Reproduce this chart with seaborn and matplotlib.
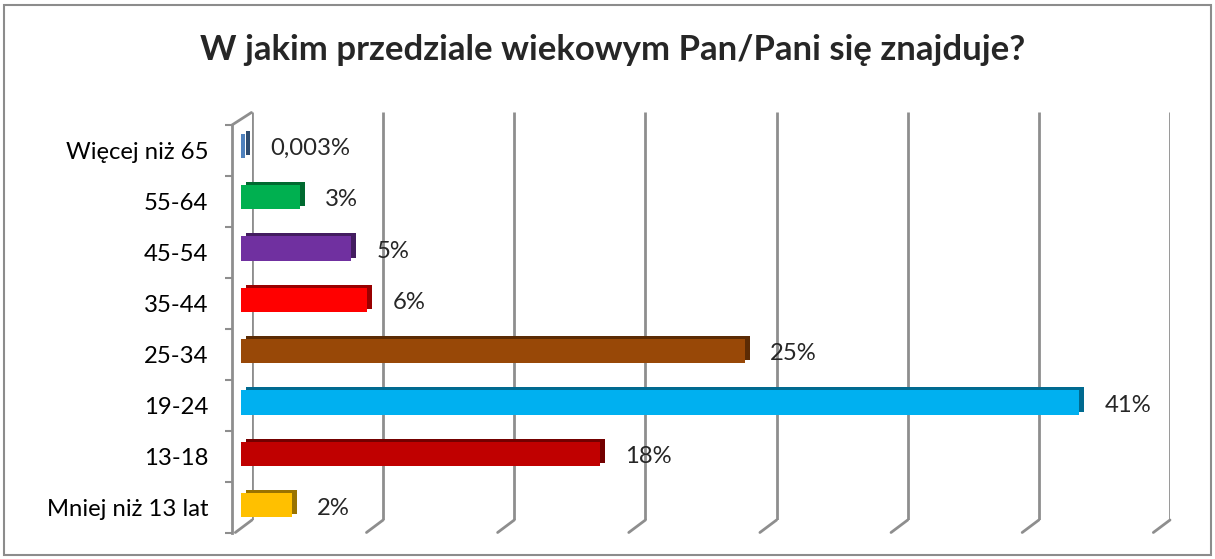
import matplotlib
matplotlib.use("Agg")
import matplotlib.pyplot as plt
import matplotlib.colors as mcolors
from matplotlib.patches import Rectangle
import numpy as np
import seaborn as sns

title = "W jakim przedziale wiekowym Pan/Pani się znajduje?"
categories = ["Więcej niż 65", "55-64", "45-54", "35-44", "25-34", "19-24", "13-18", "Mniej niż 13 lat"]
values = [0.2, 2.9, 5.4, 6.2, 24.7, 41.1, 17.6, 2.5]
labels = ["0,003%", "3%", "5%", "6%", "25%", "41%", "18%", "2%"]
colors = ["#4F81BD", "#00B050", "#7030A0", "#FF0000", "#984807", "#00B0F0", "#C00000", "#FFC000"]
x_max = 45
grid_ticks = np.linspace(0, x_max, 8)

W, H = 1215, 559


def box(left, top, right, bottom):
    # pixel box -> figure fraction
    return [left / W, 1 - bottom / H, (right - left) / W, (bottom - top) / H]


def darker(c, f=0.6):
    r, g, b = mcolors.to_rgb(c)
    return (r * f, g * f, b * f)


sns.set_theme(style="white")
plt.rcParams["font.family"] = ["Lato", "DejaVu Sans"]
grid_col = "#8e8e8e"
fs = 17.2

fig = plt.figure(figsize=(12.15, 5.59), dpi=100)
fig.patch.set_facecolor("white")
fig.patches.append(Rectangle((4 / W, 4 / H), (W - 8) / W, (H - 9) / H, transform=fig.transFigure,
                             fill=False, edgecolor="#8c8c8c", lw=1.5))

# back wall with vertical gridlines
bg = fig.add_axes(box(252, 112, 252 + 918, 520))
bg.set_xlim(0, x_max)
bg.set_ylim(0, 1)
bg.axis("off")
bg.vlines(grid_ticks, 0, 1, color=grid_col, lw=2)
for t in grid_ticks:
    bg.annotate("", xy=(t, 0), xytext=(-12, -9), textcoords="offset points",
                arrowprops=dict(arrowstyle="-", color=grid_col, lw=2, shrinkA=0, shrinkB=0))

# front category axis
fr = fig.add_axes(box(232, 125, 232 + 918, 533))
fr.patch.set_alpha(0)
fr.set_ylim(len(categories) - 0.5, -0.5)
fr.set_xlim(0, x_max)
fr.set_yticks(range(len(categories)))
fr.set_yticklabels(categories, fontsize=fs, color="black")
fr.set_yticks(np.arange(-0.5, len(categories)), minor=True)
fr.tick_params(axis="y", which="major", length=0, pad=17)
fr.tick_params(axis="y", which="minor", length=5, width=1.5, color=grid_col, direction="out", left=True)
fr.set_xticks([])
for s in ["top", "right", "bottom"]:
    fr.spines[s].set_visible(False)
fr.spines["left"].set_color(grid_col)
fr.spines["left"].set_linewidth(2)
fr.annotate("", xy=(0, -0.5), xytext=(14, 9), textcoords="offset points",
            arrowprops=dict(arrowstyle="-", color=grid_col, lw=2, shrinkA=0, shrinkB=0))

# darker copy of the bars, shifted up-right, gives the 3D side/top faces
sh = fig.add_axes(box(246, 117, 246 + 918, 528))
sh.patch.set_alpha(0)
sns.barplot(x=values, y=categories, hue=categories, palette=[darker(c) for c in colors], legend=False,
            orient="h", width=0.47, ax=sh, saturation=1, linewidth=0)
sh.set_xlim(0, x_max)
sh.set_ylim(len(categories) - 0.5, -0.5)
sh.axis("off")

# bars (front faces)
ax = fig.add_axes(box(241, 120, 241 + 918, 531))
ax.patch.set_alpha(0)
sns.barplot(x=values, y=categories, hue=categories, palette=colors, legend=False,
            orient="h", width=0.47, ax=ax, saturation=1, linewidth=0)
ax.set_xlim(0, x_max)
ax.set_ylim(len(categories) - 0.5, -0.5)
ax.axis("off")

for patch, lab in zip(ax.patches, labels):
    ax.annotate(lab, xy=(patch.get_width(), patch.get_y() + patch.get_height() / 2),
                xytext=(18, -2), textcoords="offset points", va="center", ha="left", fontsize=fs)

fig.text(613 / W, 1 - 50 / H, title, ha="center", va="center", fontsize=25, fontweight="bold")

fig.savefig("out.png", dpi=100)
